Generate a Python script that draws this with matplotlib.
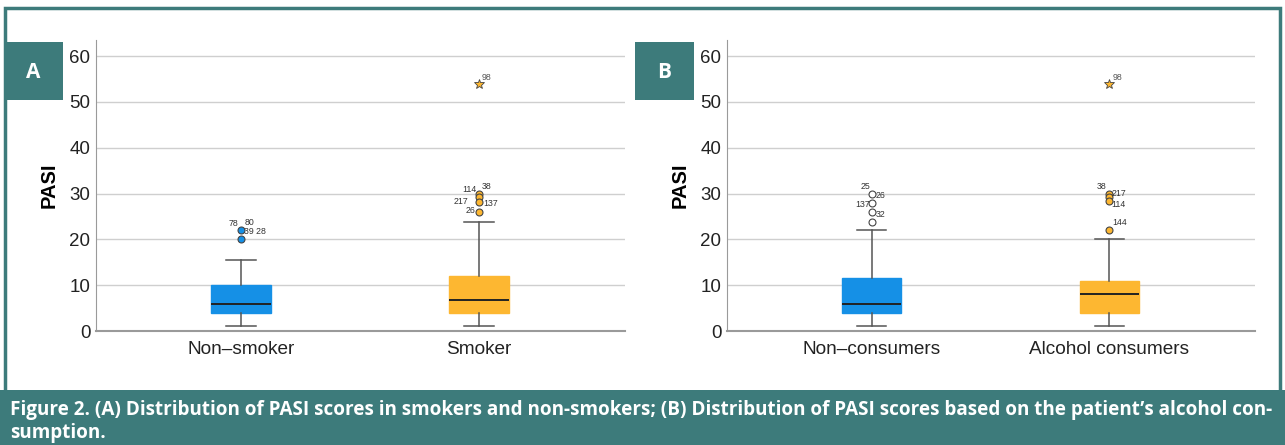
import matplotlib.pyplot as plt
from matplotlib.patches import Rectangle

plt.rcParams['font.family'] = ['Liberation Sans', 'DejaVu Sans']

TEAL = '#3d7b7b'
BLUE = '#1590e6'
ORANGE = '#fdb731'

# panel A: smoking status
a_groups = ['Non\u2013smoker', 'Smoker']
a_q1 = [4, 4]
a_med = [6, 6.7]
a_q3 = [10, 12]
a_lo = [1, 1]
a_hi = [15.6, 23.8]
a_out = [[22, 20], [30, 29.2, 28.1, 26]]
# case ids next to outliers: (group, outlier value, id)
a_ids = [(0, 22, '78'), (0, 22, '80'), (0, 22, '39 28'),
         (1, 30, '114'), (1, 30, '38'), (1, 28.1, '217'),
         (1, 28.1, '137'), (1, 26, '26')]
a_extreme = [None, 54]

# panel B: alcohol consumption
b_groups = ['Non\u2013consumers', 'Alcohol consumers']
b_q1 = [4, 4]
b_med = [6, 8]
b_q3 = [11.5, 10.9]
b_lo = [1, 1]
b_hi = [22, 20]
b_out = [[30, 28, 26, 23.8], [30, 29.3, 28.3, 22]]
b_ids = [(0, 30, '25'), (0, 30, '26'), (0, 28, '137'), (0, 26, '32'),
         (1, 30, '38'), (1, 30, '217'), (1, 28.3, '114'), (1, 22, '144')]
b_extreme = [None, 54]

# label placement in pixels (dx, dy) relative to the point, and alignment
a_place = [(-3, 7, 'right'), (4, 8, 'left'), (3, -1.5, 'left'),
           (-3, 4, 'right'), (3, 7.5, 'left'), (-11, 0.5, 'right'),
           (4, -1, 'left'), (-4, 1.5, 'right')]
b_place = [(-1, 7, 'right'), (4, -2, 'left'), (-2, -2, 'right'), (4, -2.5, 'left'),
           (-3, 7.5, 'right'), (2, 0, 'left'), (2, -3, 'left'), (3, 8, 'left')]

PX = 0.72  # points per pixel at 100 dpi


def panel(ax, groups, q1, med, q3, lo, hi, outs, ids, place, extreme, open_first):
    stats = []
    for i in range(len(groups)):
        stats.append(dict(q1=q1[i], med=med[i], q3=q3[i], whislo=lo[i],
                          whishi=hi[i], fliers=[], label=groups[i]))
    bp = ax.bxp(stats, positions=[0, 1], widths=0.25, patch_artist=True,
                showfliers=False,
                whiskerprops=dict(color='#555555', lw=1.1),
                capprops=dict(color='#555555', lw=1.1),
                medianprops=dict(color='#222222', lw=1.4))
    for patch, c in zip(bp['boxes'], [BLUE, ORANGE]):
        patch.set_facecolor(c)
        patch.set_edgecolor(c)
    for cap in bp['caps']:
        x0, x1 = cap.get_xdata()
        xc = (x0 + x1) / 2
        cap.set_xdata([xc - 0.062, xc + 0.062])

    for i in range(len(groups)):
        fc = 'white' if (open_first and i == 0) else [BLUE, ORANGE][i]
        ax.plot([i] * len(outs[i]), outs[i], 'o', ms=5, mfc=fc,
                mec='#444444', mew=0.8, zorder=4)
        if extreme[i] is not None:
            ax.plot(i, extreme[i], '*', ms=7, mfc=ORANGE, mec='#444444', mew=0.6, zorder=4)
            ax.annotate('98', (i, extreme[i]), xytext=(3 * PX, 6 * PX), textcoords='offset points',
                        ha='left', va='center', fontsize=6.3, color='#555555')
    for (g, v, lab), (dx, dy, ha) in zip(ids, place):
        ax.annotate(lab, (g, v), xytext=(dx * PX, dy * PX), textcoords='offset points',
                    ha=ha, va='center', fontsize=6.3, color='#333333', zorder=5)

    ax.set_xlim(-0.609, 1.613)
    ax.set_ylim(0, 63.5)
    ax.set_yticks(range(0, 61, 10))
    ax.yaxis.grid(True, color='#cfcfcf', lw=1)
    ax.set_axisbelow(True)
    ax.tick_params(axis='y', length=0, labelsize=13.5, colors='#222222', pad=4)
    ax.tick_params(axis='x', length=0, labelsize=13.7, colors='#222222', pad=7)
    for s in ['top', 'right']:
        ax.spines[s].set_visible(False)
    ax.spines['left'].set_color('#9a9a9a')
    ax.spines['bottom'].set_color('#9a9a9a')
    ax.spines['bottom'].set_linewidth(1.5)
    ax.set_ylabel('PASI', fontsize=14.5, fontweight='bold', labelpad=8)


fig = plt.figure(figsize=(12.85, 4.45), dpi=100)
W, H = 1285, 445

axA = fig.add_axes([96 / W, (H - 331) / H, (625 - 96) / W, (331 - 40) / H])
axB = fig.add_axes([727 / W, (H - 331) / H, (1255 - 727) / W, (331 - 40) / H])
panel(axA, a_groups, a_q1, a_med, a_q3, a_lo, a_hi, a_out, a_ids, a_place, a_extreme, False)
panel(axB, b_groups, b_q1, b_med, b_q3, b_lo, b_hi, b_out, b_ids, b_place, b_extreme, True)

# outer frame and caption band
fig.patches.append(Rectangle((5 / W, 0), (1280 - 5) / W, (H - 8) / H, transform=fig.transFigure,
                             fill=False, edgecolor=TEAL, lw=2.5, zorder=0))
fig.patches.append(Rectangle((0, 0), 1, (H - 390) / H, transform=fig.transFigure,
                             facecolor=TEAL, edgecolor='none', zorder=1))
for x0, letter in [(4, 'A'), (635, 'B')]:
    fig.patches.append(Rectangle((x0 / W, (H - 100) / H), 59 / W, 58 / H, transform=fig.transFigure,
                                 facecolor=TEAL, edgecolor='none', zorder=5))
    fig.text((x0 + 29.5) / W, (H - 72) / H, letter, color='white', fontsize=15, fontweight='bold',
             ha='center', va='center', family=['Open Sans', 'DejaVu Sans'], zorder=6)

cap_font = dict(color='white', fontsize=13.6, fontweight='bold', ha='left', va='center',
                family=['Open Sans', 'DejaVu Sans'], fontstretch='condensed', zorder=6)
fig.text(10 / W, (H - 410) / H,
         'Figure 2. (A) Distribution of PASI scores in smokers and non-smokers; (B) Distribution of PASI scores based on the patient\u2019s alcohol con-',
         **cap_font)
fig.text(10 / W, (H - 433) / H, 'sumption.', **cap_font)

fig.savefig('out.png', dpi=100)
